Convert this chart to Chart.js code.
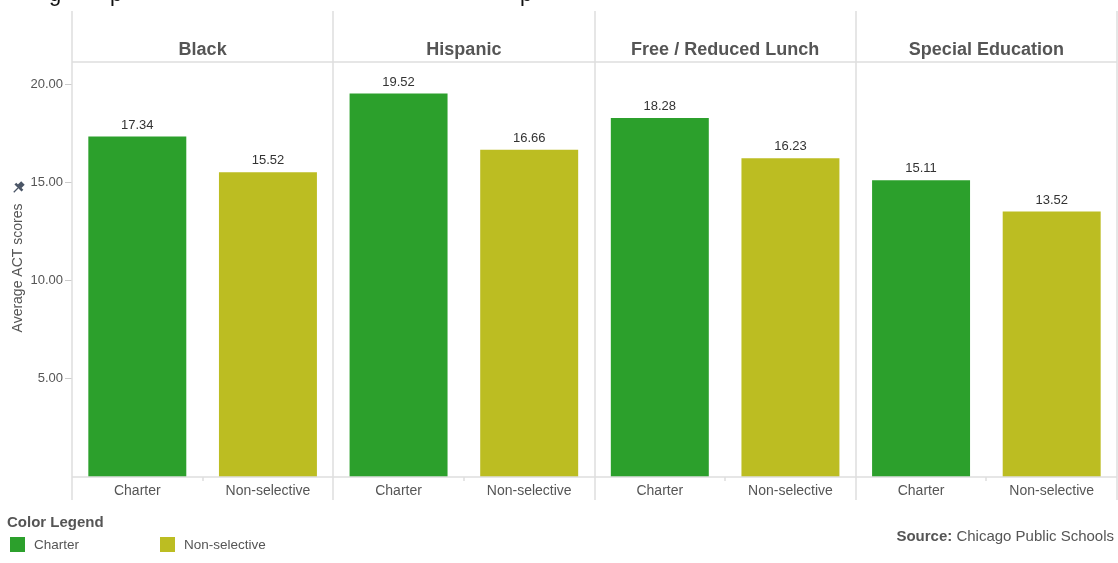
<!DOCTYPE html>
<html>
<head>
<meta charset="utf-8">
<script src="https://cdn.jsdelivr.net/npm/chart.js@4"></script>
<style>
  body { margin: 0; background: #fff; font-family: "Liberation Sans", Arial, sans-serif; }
  #wrap { position: relative; width: 1118px; height: 563px; overflow: hidden; }
  #legendTitle { position: absolute; left: 7px; top: 513px; font-size: 15px; font-weight: bold; color: #555; }
  .item { position: absolute; top: 537px; font-size: 13.5px; color: #555; line-height: 16px; }
  .sw { display: inline-block; width: 15px; height: 15px; vertical-align: top; margin-right: 9px; }
  #source { position: absolute; right: 4px; top: 527px; font-size: 15px; color: #555; }
</style>
</head>
<body>
<div id="wrap">
  <canvas id="chart" width="1118" height="563"></canvas>
  <div id="legendTitle">Color Legend</div>
  <div class="item" style="left:10px"><span class="sw" style="background:#2ca02c"></span>Charter</div>
  <div class="item" style="left:160px"><span class="sw" style="background:#bcbd22"></span>Non-selective</div>
  <div id="source"><b>Source:</b> Chicago Public Schools</div>
</div>
<script>
'use strict';

// **** Data ****
let groups = ['Black', 'Hispanic', 'Free / Reduced Lunch', 'Special Education'];
let schoolTypes = ['Charter', 'Non-selective'];
let charterScores = [17.34, 19.52, 18.28, 15.11];
let nonSelectiveScores = [15.52, 16.66, 16.23, 13.52];
let yTicks = [5, 10, 15, 20];

let typeColors = ['#2ca02c', '#bcbd22'];
let lineColor = '#dedede';
let font = '"Liberation Sans", Arial, sans-serif';

// one bar per group/type pair
let labels = [];
let values = [];
let colors = [];
for (let i = 0; i < groups.length; i++) {
  labels.push(schoolTypes[0], schoolTypes[1]);
  values.push(charterScores[i], nonSelectiveScores[i]);
  colors.push(typeColors[0], typeColors[1]);
}

// **** Plugin: panels, headers, value labels ****
let panelPlugin = {
  id: 'panels',
  afterDraw(chart) {
    let ctx = chart.ctx;
    let area = chart.chartArea;
    let x = chart.scales.x;
    let half = (x.getPixelForValue(1) - x.getPixelForValue(0)) / 2;
    ctx.save();

    // cut-off title above the chart
    ctx.fillStyle = '#111';
    ctx.font = '22px ' + font;
    ctx.textBaseline = 'alphabetic';
    ctx.fillText('g', 49, 1);
    ctx.fillText('p', 110, 1);
    ctx.fillText('p', 520, 1);

    ctx.strokeStyle = lineColor;
    ctx.lineWidth = 1.5;
    // panel dividers
    for (let i = 0; i <= groups.length; i++) {
      let px = Math.round(area.left + i * 4 * half);
      ctx.beginPath();
      ctx.moveTo(px, 11);
      ctx.lineTo(px, 500);
      ctx.stroke();
    }
    // header bottom + axis line
    ctx.beginPath();
    ctx.moveTo(area.left, 62);
    ctx.lineTo(area.right, 62);
    ctx.moveTo(area.left, area.bottom);
    ctx.lineTo(area.right, area.bottom);
    ctx.stroke();
    // small ticks between the two bars of a panel
    for (let i = 0; i < groups.length; i++) {
      let px = Math.round(x.getPixelForValue(2 * i) + half);
      ctx.beginPath();
      ctx.moveTo(px, area.bottom);
      ctx.lineTo(px, area.bottom + 4);
      ctx.stroke();
    }

    // headers
    ctx.fillStyle = '#555';
    ctx.font = 'bold 18px ' + font;
    ctx.textAlign = 'center';
    ctx.textBaseline = 'middle';
    for (let i = 0; i < groups.length; i++) {
      let cx = x.getPixelForValue(2 * i) + half;
      ctx.fillText(groups[i], cx, 50);
    }

    // value labels
    ctx.fillStyle = '#333';
    ctx.font = '13px ' + font;
    ctx.textBaseline = 'bottom';
    let meta = chart.getDatasetMeta(0);
    meta.data.forEach(function (bar, i) {
      ctx.fillText(values[i].toFixed(2), bar.x, bar.y - 5);
    });

    // axis title + pin
    ctx.save();
    ctx.translate(18, 268);
    ctx.rotate(-Math.PI / 2);
    ctx.fillStyle = '#555';
    ctx.font = '14px ' + font;
    ctx.textBaseline = 'middle';
    ctx.fillText('Average ACT scores', 0, 0);
    ctx.restore();

    ctx.translate(18, 188);
    ctx.rotate(Math.PI / 4);
    ctx.fillStyle = '#4a5566';
    ctx.strokeStyle = '#4a5566';
    ctx.fillRect(-2.5, -7, 5, 5);
    ctx.fillRect(-5, -2.5, 10, 2.5);
    ctx.lineWidth = 1.3;
    ctx.beginPath();
    ctx.moveTo(0, 0);
    ctx.lineTo(0, 6);
    ctx.stroke();

    ctx.restore();
  }
};

// **** Chart ****
let chartCanvas = document.getElementById('chart');

new Chart(chartCanvas, {
  type: 'bar',
  data: {
    labels: labels,
    datasets: [{
      data: values,
      backgroundColor: colors,
      borderWidth: 0,
      barPercentage: 0.75,
      categoryPercentage: 1
    }]
  },
  options: {
    responsive: false,
    animation: false,
    layout: { padding: { top: 62, right: 1, bottom: 0, left: 0 } },
    plugins: {
      legend: { display: false },
      tooltip: { enabled: false }
    },
    scales: {
      x: {
        grid: { display: false },
        border: { display: false },
        ticks: { color: '#555', font: { family: font, size: 14 }, padding: -2, maxRotation: 0, autoSkip: false },
        afterFit: function (scale) { scale.height = 86; }
      },
      y: {
        min: 0,
        max: 21.13,
        border: { display: false },
        grid: { drawOnChartArea: false, tickLength: 7, color: '#cccccc' },
        ticks: {
          color: '#555',
          font: { family: font, size: 13 },
          padding: 2,
          callback: function (v) { return v.toFixed(2); }
        },
        afterBuildTicks: function (scale) {
          scale.ticks = yTicks.map(function (v) { return { value: v }; });
        },
        afterFit: function (scale) { scale.width = 72; }
      }
    }
  },
  plugins: [panelPlugin]
});
</script>
</body>
</html>
